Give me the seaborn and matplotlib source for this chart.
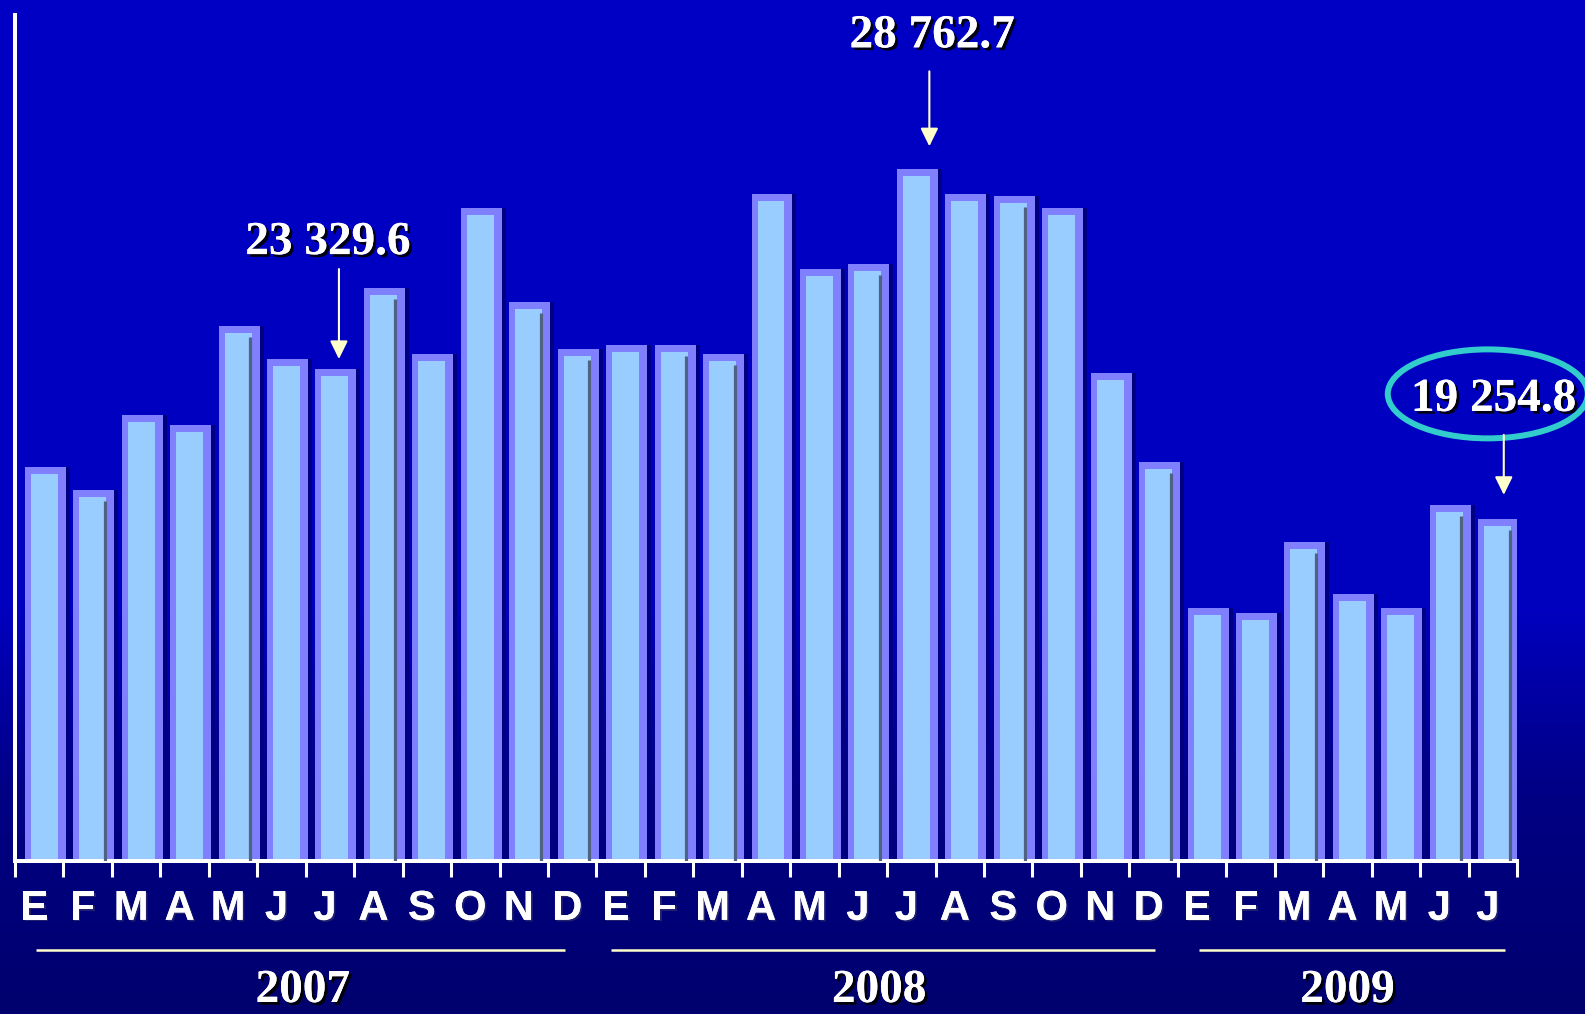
import numpy as np
import pandas as pd
import matplotlib
matplotlib.use("Agg")
import matplotlib.pyplot as plt
import matplotlib.transforms as mtransforms
import matplotlib.patheffects as pe
from matplotlib.patches import Ellipse
import seaborn as sns

# ---------------- data ----------------
years = ["2007", "2008", "2009"]
months_per_year = [12, 12, 7]
month_labels = ["E", "F", "M", "A", "M", "J", "J", "A", "S", "O", "N", "D",
                "E", "F", "M", "A", "M", "J", "J", "A", "S", "O", "N", "D",
                "E", "F", "M", "A", "M", "J", "J"]
values = [20663, 20038, 22078, 21806, 24498, 23601, 23329.6, 25532, 23737, 27708, 25151, 23873,
          23982, 23982, 23737, 28089, 26049, 26185, 28762.7, 28089, 28050, 27708, 23220, 20799,
          16828, 16692, 18623, 17209, 16828, 19630, 19254.8]
highlighted = [6, 18, 30]

# ---------------- style / layout ----------------
W, H, DPI = 1585, 1014, 100
FACE = "#99CCFF"
FRAME = "#8080FF"
SHADOW = "#000080"
DARKLINE = "#4F6282"
ARROW = "#FFFFCC"
RING = "#33CCCC"
DARK_LINE_BARS = [1, 4, 7, 10, 11, 13, 14, 17, 20, 23, 26, 29, 30]
Y_MIN, Y_MAX = 10140, 33150
BAR_SHIFT = 6  # px
YEAR_LINE_PAD = [(-0.06, -0.15), (-0.2, 0.02), (-0.06, 0.25)]  # (start, end) in category units
YEAR_DX = [-3, -8, 0]  # px
# annotation layout in pixels relative to (bar centre, bar top)
ANN = {
    6: dict(tdx=-2, tdy=122, adx=9, a0=107, a1=17, ring=False),
    18: dict(tdx=21, tdy=129, adx=18, a0=105, a1=30, ring=False),
    30: dict(tdx=1, tdy=115, adx=11, a0=91, a1=31, ring=True),
}

sns.set_theme(style="white")
plt.rcParams["font.family"] = ["Liberation Sans", "DejaVu Sans"]

fig = plt.figure(figsize=(W / DPI, H / DPI), dpi=DPI)

# background gradient
bg = fig.add_axes([0, 0, 1, 1], zorder=-10)
yy = np.linspace(0, 1, H)
blue = np.interp(yy, [0, 0.6, 0.78, 1.0], [0.77, 0.75, 0.52, 0.43])
grad = np.zeros((H, 1, 3))
grad[:, 0, 2] = blue
bg.imshow(grad, aspect="auto", extent=[0, 1, 0, 1], origin="upper")
bg.set_axis_off()

left, right, top, bottom = 15, 1517, 15, 861
ax = fig.add_axes([left / W, 1 - bottom / H, (right - left) / W, (bottom - top) / H])
ax.set_facecolor("none")

periods = []
for y, n in zip(years, months_per_year):
    for m in range(n):
        periods.append(f"{y}-{m + 1:02d}")
df = pd.DataFrame({"period": periods, "value": values})


def px_offset(dx, dy, base=None):
    base = ax.transData if base is None else base
    return base + mtransforms.ScaledTranslation(dx / DPI, dy / DPI, fig.dpi_scale_trans)


def shift_new(n0, dx):
    for p in ax.patches[n0:]:
        p.set_transform(px_offset(dx, 0))
    return ax.patches[n0:]


BW = 0.557
EDGE = 14 * 0.72
n0 = len(ax.patches)
sns.barplot(data=df, x="period", y="value", order=periods, color=SHADOW, width=BW,
            linewidth=EDGE, edgecolor=SHADOW, saturation=1, errorbar=None, ax=ax)
shift_new(n0, BAR_SHIFT + 4)
n0 = len(ax.patches)
sns.barplot(data=df, x="period", y="value", order=periods, color=FRAME, width=BW,
            linewidth=EDGE, edgecolor=FRAME, saturation=1, errorbar=None, ax=ax)
shift_new(n0, BAR_SHIFT)
n0 = len(ax.patches)
sns.barplot(data=df, x="period", y="value", order=periods, color=FACE, width=BW,
            linewidth=0, saturation=1, errorbar=None, ax=ax)
face = shift_new(n0, BAR_SHIFT - 1)

for i in DARK_LINE_BARS:
    p = face[i]
    xr = p.get_x() + p.get_width()
    ax.plot([xr, xr], [Y_MIN - 2000, p.get_height()], color=DARKLINE, lw=2.3,
            solid_capstyle="butt", transform=px_offset(BAR_SHIFT - 2.5, -4), zorder=3)

ax.set_xlim(-0.5, len(values) - 0.5)
ax.set_ylim(Y_MIN, Y_MAX)
ax.set_xlabel("")
ax.set_ylabel("")
ax.set_yticks([])
ax.set_xticks(np.arange(-0.5, len(values), 1))
ax.set_xticklabels([])
ax.set_xticks(np.arange(len(values)), minor=True)
ax.set_xticklabels(month_labels, minor=True)
ax.tick_params(axis="x", which="major", length=11.5, width=2.2, color="white",
               direction="out", bottom=True)
ax.tick_params(axis="x", which="minor", length=0, pad=20, labelsize=30, labelcolor="white")
for s in ["top", "right"]:
    ax.spines[s].set_visible(False)
for s in ["left", "bottom"]:
    ax.spines[s].set_visible(True)
    ax.spines[s].set_color("white")
    ax.spines[s].set_linewidth(2.9)
ax.grid(False)

serif = ["Liberation Serif", "DejaVu Serif"]
shadow_fx = [pe.withSimplePatchShadow(offset=(2, -2), shadow_rgbFace="black", alpha=0.9), pe.Normal()]

# year separators and labels
blend = mtransforms.blended_transform_factory(ax.transData, fig.transFigure)
start = 0
for (y, n), (p0, p1), ydx in zip(zip(years, months_per_year), YEAR_LINE_PAD, YEAR_DX):
    first, last = start, start + n - 1
    ax.plot([first + p0, last + p1], [1 - 950 / H] * 2, color=ARROW, lw=1.8,
            transform=blend, clip_on=False, solid_capstyle="butt")
    ax.text((first + last) / 2, 1 - 1012 / H, y, transform=px_offset(ydx, 0, blend),
            ha="center", va="bottom", fontsize=34, fontweight="bold", family=serif,
            color="white", path_effects=shadow_fx, clip_on=False)
    start += n

# highlighted values
for i in highlighted:
    v = values[i]
    a = ANN[i]
    txt = f"{v:,.1f}".replace(",", " ")
    ax.text(i, v, txt, transform=px_offset(a["tdx"], a["tdy"]), ha="center", va="baseline",
            fontsize=34, fontweight="bold", family=serif, color="white",
            path_effects=shadow_fx, clip_on=False, zorder=6)
    ax.annotate("", xy=(i, v), xycoords=px_offset(a["adx"], a["a1"]),
                xytext=(i, v), textcoords=px_offset(a["adx"], a["a0"]),
                arrowprops=dict(arrowstyle="-|>,head_length=0.55,head_width=0.27",
                                color=ARROW, lw=1.5, shrinkA=0, shrinkB=0, mutation_scale=20),
                annotation_clip=False, zorder=6)
    if a["ring"]:
        fig.canvas.draw()
        cx, cy = ax.transData.transform((i, v))
        ring = Ellipse(((cx - 5) / DPI, (cy + 132) / DPI), width=200 / DPI, height=89 / DPI,
                       fill=False, edgecolor=RING, lw=4.3, clip_on=False, zorder=5,
                       transform=fig.dpi_scale_trans)
        ax.add_artist(ring)

# month labels: bold, slight shadow, nudged left like the original
fig.canvas.draw()
for tick in ax.xaxis.get_minor_ticks():
    lbl = tick.label1
    lbl.set_fontweight("bold")
    lbl.set_family(["Liberation Sans", "DejaVu Sans"])
    lbl.set_path_effects([pe.withSimplePatchShadow(offset=(1.2, -1.2), shadow_rgbFace="#30306a", alpha=0.7),
                          pe.Normal()])
    lbl.set_transform(lbl.get_transform() + mtransforms.ScaledTranslation(-5 / DPI, 0, fig.dpi_scale_trans))

fig.savefig("out.png", dpi=DPI)
